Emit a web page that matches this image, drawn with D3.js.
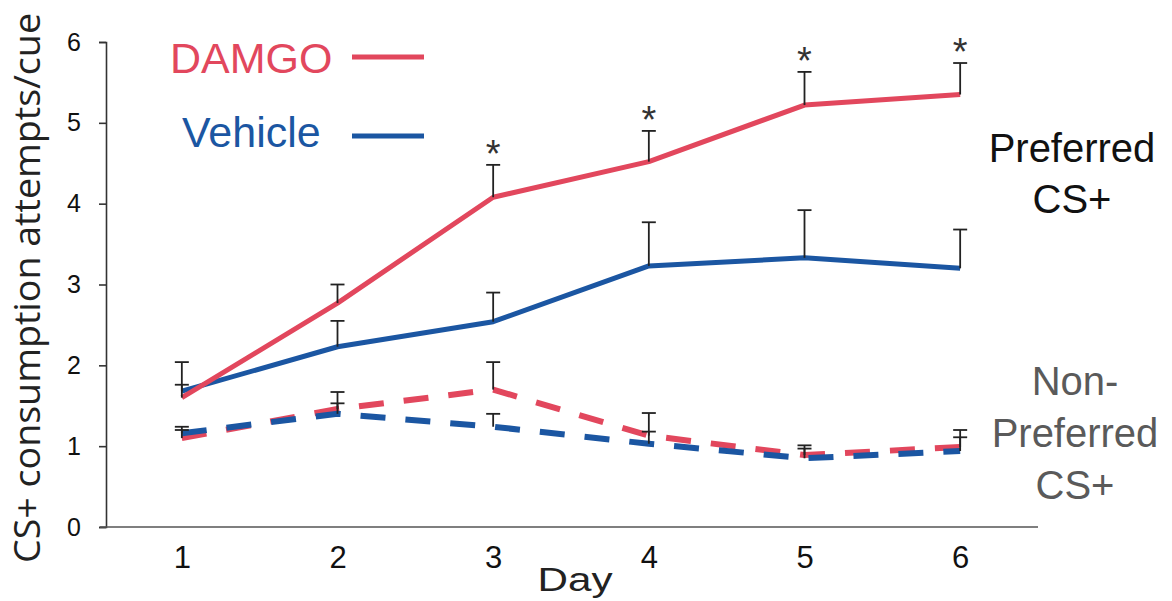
<!DOCTYPE html>
<html>
<head>
<meta charset="utf-8">
<script src="https://cdn.jsdelivr.net/npm/d3@7"></script>
<style>
  html, body { margin: 0; padding: 0; background: #fff; }
  svg { display: block; }
</style>
</head>
<body>
<div id="chart"></div>
<script>
// ========================
// DATA
// ========================
const days = [1, 2, 3, 4, 5, 6];
const yTicks = [0, 1, 2, 3, 4, 5, 6];

// preferred CS+ (solid lines)
const damgoPref = [1.60, 2.77, 4.08, 4.52, 5.22, 5.35];
const damgoPrefErr = [0.16, 0.23, 0.40, 0.38, 0.41, 0.39];
const vehiclePref = [1.68, 2.23, 2.54, 3.23, 3.33, 3.20];
const vehiclePrefErr = [0.36, 0.32, 0.36, 0.54, 0.59, 0.48];

// non-preferred CS+ (dashed lines)
const damgoNon = [1.10, 1.46, 1.70, 1.13, 0.89, 0.99];
const damgoNonErr = [0.10, 0.21, 0.34, 0.28, 0.12, 0.21];
const vehicleNon = [1.16, 1.40, 1.24, 1.03, 0.85, 0.94];
const vehicleNonErr = [0.08, 0.13, 0.16, 0.15, 0.12, 0.17];

// days where DAMGO preferred differs from vehicle
const sigDays = [3, 4, 5, 6];

const RED = "#e2475d";
const BLUE = "#1b56a2";

// ========================
// CHART
// ========================
const width = 1172, height = 601;
const svg = d3.select("#chart").append("svg")
    .attr("width", width)
    .attr("height", height)
    .style("font-family", "'Liberation Sans', Arial, sans-serif");

const x = d3.scaleLinear().domain([0.5, 6.5]).range([104, 1038]);
const y = d3.scaleLinear().domain([0, 6]).range([527, 42]);

// y axis
const yAxis = svg.append("g")
    .attr("transform", `translate(106,0)`)
    .call(d3.axisLeft(y).tickValues(yTicks).tickSize(7).tickPadding(18).tickFormat(d3.format("d")));
yAxis.select(".domain").attr("stroke", "#333").attr("stroke-width", 1.6);
yAxis.selectAll(".tick line").attr("stroke", "#333").attr("stroke-width", 1.6);
yAxis.selectAll(".tick text")
    .attr("font-size", 25)
    .attr("fill", "#111")
    .attr("font-family", "'Liberation Sans', Arial, sans-serif");

// x axis (no tick marks)
const xAxis = svg.append("g")
    .attr("transform", `translate(0,${y(0)})`)
    .call(d3.axisBottom(x).tickValues(days).tickSize(0).tickPadding(19).tickFormat(d3.format("d")));
xAxis.select(".domain").attr("stroke", "#555").attr("stroke-width", 1.6)
    .attr("d", `M${x(0.5) - 4},0H${x(6.5)}`);
xAxis.selectAll(".tick text")
    .attr("font-size", 31)
    .attr("fill", "#111")
    .attr("font-family", "'Liberation Sans', Arial, sans-serif");

// axis titles
svg.append("text")
    .attr("transform", `translate(40,288) rotate(-90)`)
    .attr("text-anchor", "middle")
    .attr("font-family", "'Open Sans', 'DejaVu Sans', sans-serif")
    .attr("font-size", 36)
    .attr("fill", "#222")
    .attr("textLength", 550)
    .attr("lengthAdjust", "spacingAndGlyphs")
    .text("CS+ consumption attempts/cue");

svg.append("text")
    .attr("x", 575)
    .attr("y", 591)
    .attr("text-anchor", "middle")
    .attr("font-size", 33)
    .attr("fill", "#222")
    .attr("textLength", 75)
    .attr("lengthAdjust", "spacingAndGlyphs")
    .text("Day");

// ========================
// SERIES
// ========================
const series = [
    { vals: damgoNon, errs: damgoNonErr, color: RED, dashed: true },
    { vals: vehicleNon, errs: vehicleNonErr, color: BLUE, dashed: true },
    { vals: vehiclePref, errs: vehiclePrefErr, color: BLUE, dashed: false },
    { vals: damgoPref, errs: damgoPrefErr, color: RED, dashed: false }
];

const line = d3.line()
    .x((d, i) => x(days[i]))
    .y(d => y(d));

series.forEach(s => {
    svg.append("path")
        .datum(s.vals)
        .attr("d", line)
        .attr("fill", "none")
        .attr("stroke", s.color)
        .attr("stroke-width", s.dashed ? 6 : 5)
        .attr("stroke-linejoin", "round")
        .attr("stroke-dasharray", s.dashed ? "25,20" : null);
});

// error bars (upper only)
series.forEach(s => {
    const g = svg.append("g").attr("stroke", "#222").attr("stroke-width", 1.8);
    s.vals.forEach((v, i) => {
        const cx = x(days[i]);
        const top = y(v + s.errs[i]);
        g.append("line").attr("x1", cx).attr("x2", cx).attr("y1", y(v)).attr("y2", top);
        g.append("line").attr("x1", cx - 7).attr("x2", cx + 7).attr("y1", top).attr("y2", top);
    });
});

// significance asterisks
sigDays.forEach(d => {
    const i = days.indexOf(d);
    svg.append("text")
        .attr("x", x(d))
        .attr("y", y(damgoPref[i] + damgoPrefErr[i]) + 2)
        .attr("text-anchor", "middle")
        .attr("font-size", 38)
        .attr("fill", "#333")
        .text("*");
});

// ========================
// LEGEND
// ========================
const legend = [
    { label: "DAMGO", color: RED, ty: 73, ly: 57, tx: 170 },
    { label: "Vehicle", color: BLUE, ty: 147, ly: 136, tx: 182 }
];
legend.forEach(l => {
    svg.append("text")
        .attr("x", l.tx)
        .attr("y", l.ty)
        .attr("font-size", 43)
        .attr("fill", l.color)
        .text(l.label);
    svg.append("line")
        .attr("x1", 352).attr("x2", 424)
        .attr("y1", l.ly).attr("y2", l.ly)
        .attr("stroke", l.color)
        .attr("stroke-width", 5);
});

// right side labels
const prefLines = ["Preferred", "CS+"];
const nonLines = ["Non-", "Preferred", "CS+"];

svg.append("text")
    .attr("x", 1072)
    .attr("y", 162)
    .attr("text-anchor", "middle")
    .attr("font-size", 40)
    .attr("fill", "#111")
    .selectAll("tspan")
    .data(prefLines)
    .join("tspan")
    .attr("x", 1072)
    .attr("dy", (d, i) => i ? 51 : 0)
    .text(d => d);

svg.append("text")
    .attr("x", 1075)
    .attr("y", 395)
    .attr("text-anchor", "middle")
    .attr("font-size", 40)
    .attr("fill", "#5a5a5a")
    .selectAll("tspan")
    .data(nonLines)
    .join("tspan")
    .attr("x", 1075)
    .attr("dy", (d, i) => i ? 52 : 0)
    .text(d => d);
</script>
</body>
</html>
